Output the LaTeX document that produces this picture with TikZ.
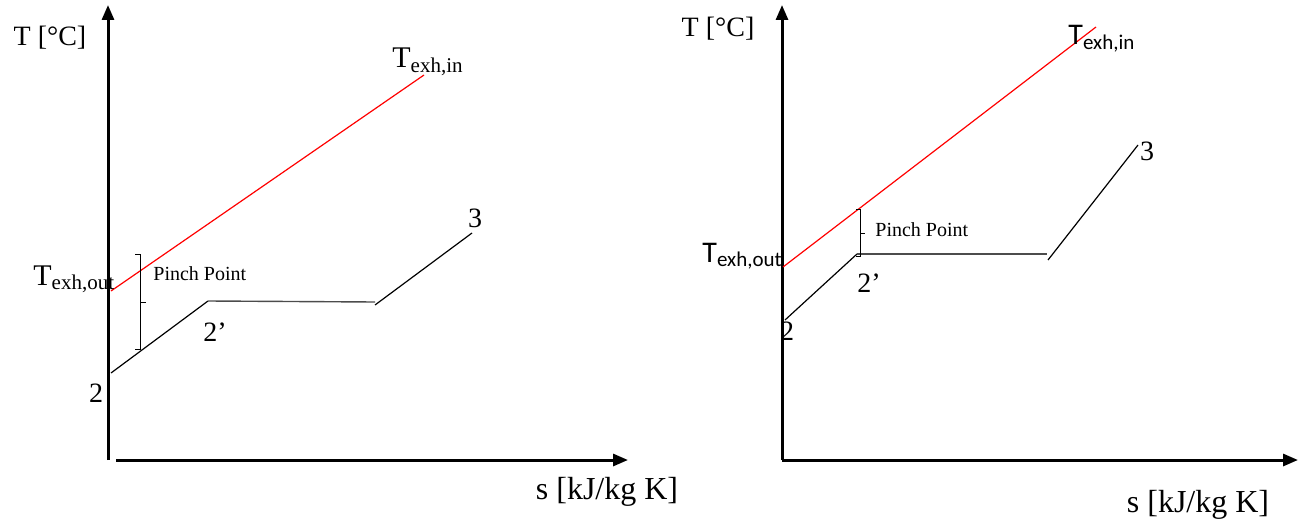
\documentclass[tikz,border=0pt]{standalone}
\usepackage{fontspec}
\setmainfont{Liberation Serif}
\newfontfamily\calfont{Carlito}
\usetikzlibrary{arrows.meta}

\begin{document}
\begin{tikzpicture}[x=0.5pt,y=-0.5pt,
  axis/.style={line width=1.5pt,-{Triangle[length=7.5pt,width=6pt]}},
  exh/.style={red,line width=0.6pt},
  wf/.style={line width=0.6pt},
  flat/.style={black!70,line width=0.7pt},
  brk/.style={line width=0.5pt},
  lbl/.style={inner sep=0pt,font=\fontsize{14}{14}\selectfont},
  pinch/.style={inner sep=0pt,anchor=west,font=\fontsize{10}{10}\selectfont}]
  \useasboundingbox (0,0) rectangle (1315,524);

  % left panel
  \coordinate (lo) at (108,460);
  \coordinate (ltop) at (108,5);
  \coordinate (lx0) at (116,460);
  \coordinate (lxend) at (628,460);
  \draw[axis] (lo) -- (ltop);
  \draw[axis] (lx0) -- (lxend);
  \node[lbl] (lT) at (50,38) {T [°C]};
  \node[lbl,font=\fontsize{16}{16}\selectfont] (ls) at (607,492) {s [kJ/kg K]};

  \coordinate (lhot0) at (111,291);
  \coordinate (lhot1) at (424,75);
  \draw[exh] (lhot0) -- (lhot1);
  \node[inner sep=0pt,anchor=base west,font=\fontsize{15}{15}\selectfont] (lin) at (392,68) {T\textsubscript{exh,in}};
  \node[inner sep=0pt,anchor=base west,font=\fontsize{15}{15}\selectfont] (lout) at (33,285) {T\textsubscript{exh,out}};

  \coordinate (l2) at (111,373);
  \coordinate (l2p) at (208,301);
  \coordinate (l3a) at (375,302);
  \coordinate (l3b) at (375,305);
  \coordinate (l3) at (472,233);
  \draw[wf] (l2) -- (l2p);
  \draw[flat] (l2p) -- (l3a);
  \draw[wf] (l3b) -- (l3);
  \node[lbl] (n2) at (96,393) {2};
  \node[lbl] (n2p) at (215,332) {2’};
  \node[lbl] (n3) at (475,218) {3};

  \draw[brk] (135,254) -- (140,254) -- (140,349) -- (135,349);
  \draw[brk] (140,302) -- (146,302);
  \node[pinch] (lpp) at (153,274) {Pinch Point};

  % right panel
  \coordinate (ro) at (782,460);
  \coordinate (rtop) at (782,5);
  \coordinate (rxend) at (1298,460);
  \draw[axis] (ro) -- (rtop);
  \draw[axis] (ro) -- (rxend);
  \node[lbl] (rT) at (718,29) {T [°C]};
  \node[lbl,font=\fontsize{16}{16}\selectfont] (rs) at (1198,505) {s [kJ/kg K]};

  \coordinate (rhot0) at (783,267);
  \coordinate (rhot1) at (1096,27);
  \draw[exh] (rhot0) -- (rhot1);
  \node[inner sep=0pt,anchor=base west,font=\calfont\fontsize{15}{15}\selectfont] (rin) at (1068,45) {T\textsubscript{exh,in}};
  \node[inner sep=0pt,anchor=base west,font=\calfont\fontsize{15}{15}\selectfont] (rout) at (702,262) {T\textsubscript{exh,out}};

  \coordinate (r2) at (785,320);
  \coordinate (r2p) at (857,254);
  \coordinate (r3a) at (1047,254);
  \coordinate (r3b) at (1048,260);
  \coordinate (r3) at (1138,145);
  \draw[wf] (r2) -- (r2p);
  \draw[flat] (r2p) -- (r3a);
  \draw[wf] (r3b) -- (r3);
  \node[lbl] (m2) at (787,331) {2};
  \node[lbl] (m2p) at (869,283) {2’};
  \node[lbl] (m3) at (1147,151) {3};

  \draw[brk] (856,209) -- (860,209) -- (860,256) -- (856,256);
  \draw[brk] (861,233) -- (865,233);
  \node[pinch] (rpp) at (875,230) {Pinch Point};
\end{tikzpicture}
\end{document}
